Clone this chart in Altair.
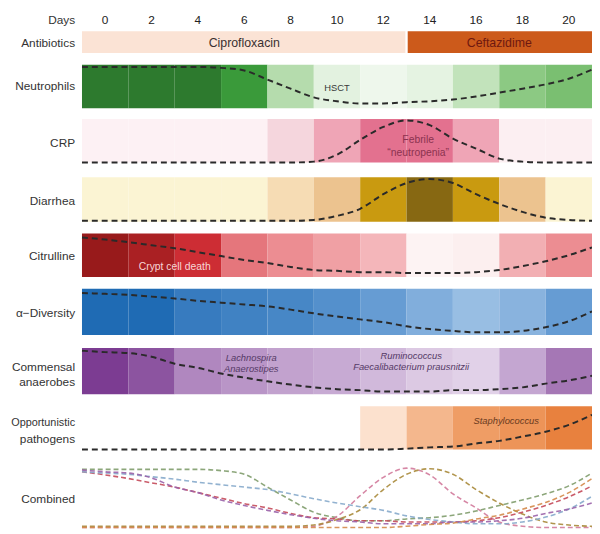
import altair as alt
import pandas as pd

# ---------------- data ----------------
DAY_TICKS = [0, 2, 4, 6, 8, 10, 12, 14, 16, 18, 20]
CURVE_DAYS = list(range(-1, 22))

ROWS = ["Neutrophils", "CRP", "Diarrhea", "Citrulline", "Diversity", "Commensal", "Opportunistic"]

# cell intensities (0..1), one per 2-day cell centred on DAY_TICKS
CELL_NEUTROPHILS = [1, 1, 1, 0.8, 0.3, 0.06, 0.0, 0.05, 0.25, 0.45, 0.52]
CELL_CRP = [0, 0, 0, 0, 0.25, 0.5, 1, 1, 0.5, 0.02, 0.02]
CELL_DIARRHEA = [0, 0, 0, 0, 0.25, 0.5, 0.75, 1, 0.75, 0.5, 0.0]
CELL_CITRULLINE = [1, 0.92, 0.76, 0.56, 0.5, 0.4, 0.28, 0.0, 0.02, 0.32, 0.5]
CELL_DIVERSITY = [1, 1, 0.8, 0.72, 0.66, 0.55, 0.42, 0.25, 0.1, 0.2, 0.42]
CELL_COMMENSAL = [1, 0.88, 0.62, 0.55, 0.48, 0.42, 0.3, 0.18, 0.12, 0.45, 0.7]
CELL_OPPORTUNISTIC = [None, None, None, None, None, None, 0.05, 0.35, 0.55, 0.65, 0.85]

# dashed trend curves (0 = bottom of row, 1 = top), days -1..21
CURVE_NEUTROPHILS = [.95, .95, .95, .95, .95, .95, .93, .87, .66, .45, .25, .16, .11, .11, .14, .16, .2, .27, .36, .45, .55, .68, .89]
CURVE_CRP = [0, 0, 0, 0, 0, 0, 0, 0, 0, 0, .02, .18, .52, .82, .97, .86, .55, .32, .09, .02, 0, 0, 0]
CURVE_DIARRHEA = [.02, .02, .02, .02, .02, .02, .02, .02, .02, .02, .04, .13, .29, .62, .87, .96, .87, .62, .4, .22, .09, .04, .02]
CURVE_CITRULLINE = [.91, .86, .8, .73, .66, .57, .48, .39, .32, .23, .16, .14, .11, .11, .09, .09, .09, .11, .16, .25, .36, .5, .68]
CURVE_DIVERSITY = [.91, .89, .87, .83, .79, .74, .7, .66, .62, .55, .47, .4, .34, .28, .19, .13, .09, .06, .06, .09, .17, .3, .51]
CURVE_COMMENSAL = [.94, .91, .89, .81, .66, .57, .45, .36, .28, .21, .15, .11, .09, .06, .06, .06, .09, .09, .11, .15, .23, .3, .4]
CURVE_OPPORTUNISTIC = [0, 0, 0, 0, 0, 0, 0, 0, 0, 0, 0, 0, 0, 0, .02, .05, .07, .14, .2, .3, .41, .57, .8]

DRUGS = ["Ciprofloxacin", "Ceftazidime"]
DRUG_START = [-1, 13.05]
DRUG_END = [12.95, 21]
DRUG_LABEL_DAY = [6, 17]

ROW_LABELS = ["Days", "Antibiotics", "Neutrophils", "CRP", "Diarrhea", "Citrulline", "α−Diversity",
              "Commensal", "anaerobes", "Opportunistic", "pathogens", "Combined"]

ANNOT_TEXT = ["HSCT", "Febrile", "\u201cneutropenia\u201d", "Crypt cell death"]
ANNOT_DAY = [10, 13.5, 13.5, 3.0]
ANNOT_ITALIC = ["Lachnospira", "Anaerostipes", "Ruminococcus", "Faecalibacterium prausnitzii", "Staphylococcus"]
ANNOT_ITALIC_DAY = [6.3, 6.3, 13.2, 13.2, 17.3]

# ---------------- layout / style ----------------
ROW_TOP = {"Neutrophils": 62, "CRP": 117, "Diarrhea": 176, "Citrulline": 233, "Diversity": 289,
           "Commensal": 349, "Opportunistic": 408}
ROW_BOTTOM = {"Neutrophils": 106, "CRP": 161, "Diarrhea": 221, "Citrulline": 277, "Diversity": 336,
              "Commensal": 396, "Opportunistic": 452}
COMB_TOP, COMB_BOTTOM = 469, 531
LABEL_Y = [17, 40, 84, 141, 200, 256, 314, 368, 384, 425, 441, 502]
LABEL_SIZE = [12, 12, 12, 12, 12, 12, 12, 12, 12, 11, 12, 12]
ANNOT_Y = [86, 138, 151, 267]
ANNOT_COLOR = ["#3a3a3a", "#8b3350", "#8b3350", "#f7d6d6"]
ANNOT_SIZE = [9.5, 10.5, 10.5, 10.5]
ANNOT_ITALIC_Y = [359, 370, 357, 368, 423]
ANNOT_ITALIC_COLOR = ["#553a66", "#553a66", "#553a66", "#553a66", "#6a3a20"]

RAMPS = {
    "Neutrophils": ([0, 0.25, 0.5, 0.8, 1], ["#eef7ec", "#c2e3bb", "#7fc275", "#3a9a3a", "#2d7a2e"]),
    "CRP": ([0, 0.25, 0.5, 1], ["#fdf1f4", "#f5d6dd", "#efa5b6", "#e3718f"]),
    "Diarrhea": ([0, 0.25, 0.5, 0.75, 1], ["#fbf4d3", "#f6dcb4", "#ecc38f", "#c99a10", "#876812"]),
    "Citrulline": ([0, 0.25, 0.5, 0.75, 1], ["#fdf3f3", "#f5bcc0", "#ec8d92", "#cf2e35", "#981a1b"]),
    "Diversity": ([0, 0.5, 1], ["#a8c8e8", "#5a94cf", "#1f6bb4"]),
    "Commensal": ([0, 0.5, 1], ["#ebe1f0", "#c09fcd", "#7c3c92"]),
    "Opportunistic": ([0, 0.5, 1], ["#fde8d9", "#f0a26c", "#e5732a"]),
}
COMB_COLORS = ["#7f9c6c", "#d27a9b", "#a8893a", "#c44a5a", "#86aacb", "#9a62a8", "#d48a4a"]
FONT = "Liberation Sans"

CELLS = [CELL_NEUTROPHILS, CELL_CRP, CELL_DIARRHEA, CELL_CITRULLINE, CELL_DIVERSITY, CELL_COMMENSAL, CELL_OPPORTUNISTIC]
CURVES = [CURVE_NEUTROPHILS, CURVE_CRP, CURVE_DIARRHEA, CURVE_CITRULLINE, CURVE_DIVERSITY, CURVE_COMMENSAL, CURVE_OPPORTUNISTIC]

xs = alt.Scale(domain=[-1, 21], nice=False, zero=False)
ys = alt.Scale(domain=[8, 534], reverse=True, nice=False, zero=False)

layers = []

# antibiotics bars
drug_df = pd.DataFrame({"drug": DRUGS, "start": DRUG_START, "end": DRUG_END, "mid": DRUG_LABEL_DAY,
                        "top": 28, "bottom": 50, "ty": 40})
layers.append(alt.Chart(drug_df).mark_rect().encode(
    x=alt.X("start:Q", scale=xs, axis=None), x2="end:Q",
    y=alt.Y("top:Q", scale=ys, axis=None), y2="bottom:Q",
    color=alt.Color("drug:N", scale=alt.Scale(domain=DRUGS, range=["#fbe3d5", "#cc5a1b"]), legend=None)))
layers.append(alt.Chart(drug_df).mark_text(font=FONT, fontSize=12.5, baseline="middle").encode(
    x=alt.X("mid:Q", scale=xs, axis=None), y=alt.Y("ty:Q", scale=ys, axis=None),
    text="drug:N",
    color=alt.Color("drug:N", scale=alt.Scale(domain=DRUGS, range=["#3a3030", "#6e1810"]), legend=None)))

# heat cells
for name, vals in zip(ROWS, CELLS):
    df = pd.DataFrame({"day": DAY_TICKS, "v": vals}).dropna()
    df["top"] = ROW_TOP[name]
    df["bottom"] = ROW_BOTTOM[name]
    dom, rng = RAMPS[name]
    layers.append(alt.Chart(df).transform_calculate(x0="datum.day - 1", x1="datum.day + 1").mark_rect().encode(
        x=alt.X("x0:Q", scale=xs, axis=None), x2="x1:Q",
        y=alt.Y("top:Q", scale=ys, axis=None), y2="bottom:Q",
        color=alt.Color("v:Q", scale=alt.Scale(domain=dom, range=rng, interpolate="rgb"), legend=None)))

# curves
recs = []
for name, vals in zip(ROWS, CURVES):
    for d, f in zip(CURVE_DAYS, vals):
        recs.append({"row": name, "day": d, "f": f, "top": ROW_TOP[name], "bottom": ROW_BOTTOM[name],
                     "ctop": COMB_TOP, "cbottom": COMB_BOTTOM})
curve_df = pd.DataFrame(recs)

layers.append(alt.Chart(curve_df).transform_calculate(
    yy="datum.bottom - datum.f * (datum.bottom - datum.top)"
).mark_line(strokeDash=[6, 4], strokeWidth=2, color="#2a2a2a", interpolate="monotone").encode(
    x=alt.X("day:Q", scale=xs, axis=None), y=alt.Y("yy:Q", scale=ys, axis=None), detail="row:N"))

layers.append(alt.Chart(curve_df).transform_calculate(
    yy="datum.cbottom - datum.f * (datum.cbottom - datum.ctop)"
).mark_line(strokeDash=[5, 3], strokeWidth=1.6, opacity=0.9, interpolate="monotone").encode(
    x=alt.X("day:Q", scale=xs, axis=None), y=alt.Y("yy:Q", scale=ys, axis=None),
    color=alt.Color("row:N", scale=alt.Scale(domain=ROWS, range=COMB_COLORS), legend=None)))

# row labels
lab_df = pd.DataFrame({"t": ROW_LABELS, "y": LABEL_Y, "s": LABEL_SIZE})
layers.append(alt.Chart(lab_df).mark_text(font=FONT, align="right", baseline="middle",
                                          color="#333333").encode(
    x=alt.value(-7), y=alt.Y("y:Q", scale=ys, axis=None), text="t:N",
    size=alt.Size("s:Q", scale=None)))

# day ticks
tick_df = pd.DataFrame({"day": DAY_TICKS, "y": 17})
layers.append(alt.Chart(tick_df).mark_text(font=FONT, fontSize=12, baseline="middle", color="#222222").encode(
    x=alt.X("day:Q", scale=xs, axis=None), y=alt.Y("y:Q", scale=ys, axis=None), text="day:Q"))

# annotations
ann_df = pd.DataFrame({"t": ANNOT_TEXT, "day": ANNOT_DAY, "y": ANNOT_Y, "c": ANNOT_COLOR, "s": ANNOT_SIZE})
layers.append(alt.Chart(ann_df).mark_text(font=FONT, baseline="middle").encode(
    x=alt.X("day:Q", scale=xs, axis=None), y=alt.Y("y:Q", scale=ys, axis=None), text="t:N",
    color=alt.Color("c:N", scale=None), size=alt.Size("s:Q", scale=None)))

it_df = pd.DataFrame({"t": ANNOT_ITALIC, "day": ANNOT_ITALIC_DAY, "y": ANNOT_ITALIC_Y, "c": ANNOT_ITALIC_COLOR})
layers.append(alt.Chart(it_df).mark_text(font=FONT, fontSize=9.5, fontStyle="italic", baseline="middle").encode(
    x=alt.X("day:Q", scale=xs, axis=None), y=alt.Y("y:Q", scale=ys, axis=None), text="t:N",
    color=alt.Color("c:N", scale=None)))

chart = alt.layer(*layers).resolve_scale(color="independent", size="independent").properties(
    width=517, height=526,
    autosize=alt.AutoSizeParams(type="none"),
    padding={"left": 75, "top": 0, "right": 0, "bottom": 0},
).configure_view(strokeWidth=0)

chart.save("out.html", embed_options={"renderer": "svg", "actions": False})
